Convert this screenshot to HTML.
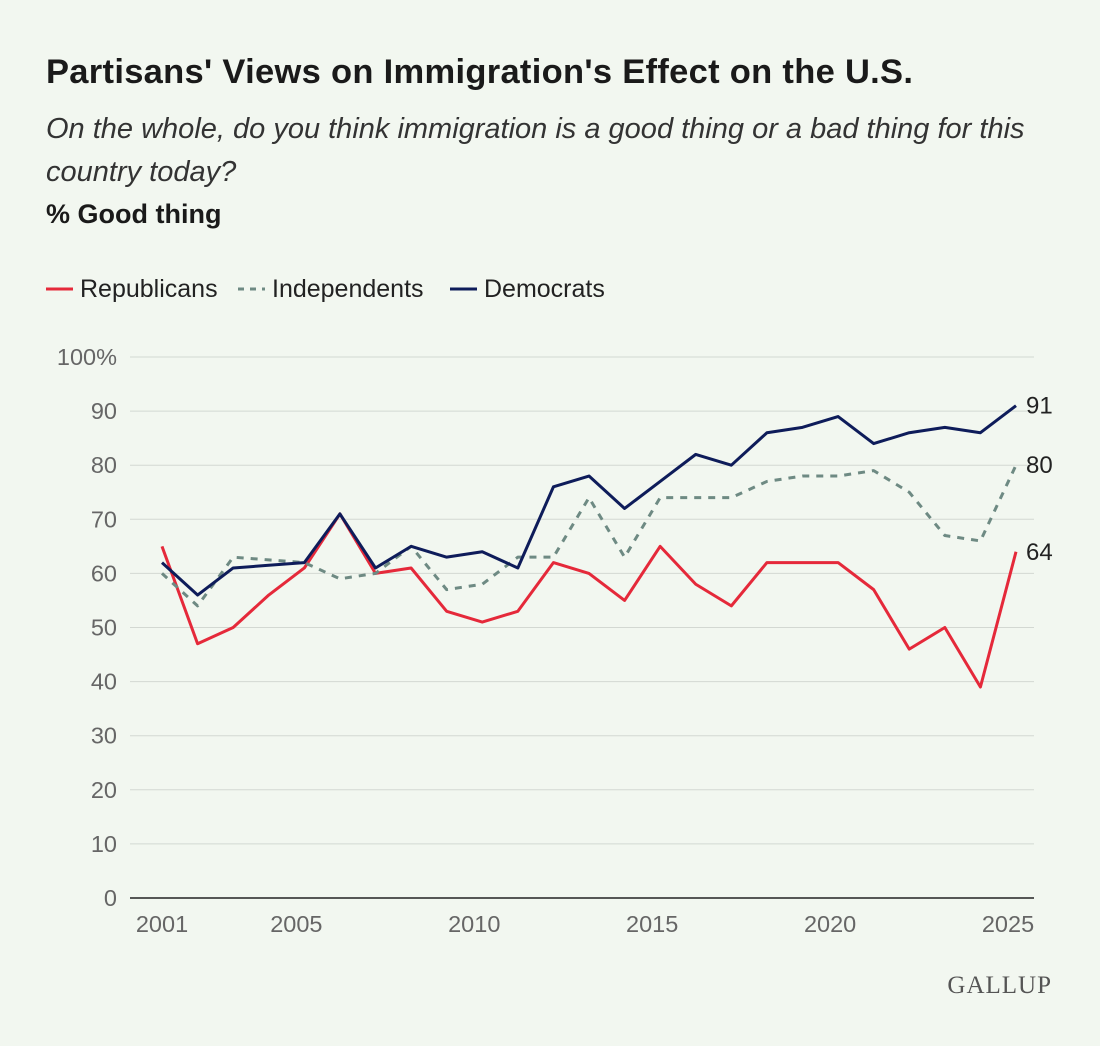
<!DOCTYPE html>
<html><head><meta charset="utf-8">
<style>
body{margin:0;background:#f2f7f0;font-family:"Liberation Sans",sans-serif;}
#wrap{position:relative;width:1100px;height:1046px;overflow:hidden;background:#f2f7f0;}
.t{position:absolute;left:46px;color:#1a1a1a;}
</style></head><body>
<div id="wrap">
<div class="t" style="top:53px;font-size:34.5px;font-weight:bold;letter-spacing:0.3px;">Partisans' Views on Immigration's Effect on the U.S.</div>
<div class="t" style="top:108px;font-size:29px;font-style:italic;line-height:43px;width:1020px;color:#333;">On the whole, do you think immigration is a good thing or a bad thing for this country today?</div>
<div class="t" style="top:199px;font-size:27px;font-weight:bold;">% Good thing</div>
<svg id="svg" width="1100" height="1046" style="position:absolute;left:0;top:0"></svg>
</div>
<script>
const years=[2001,2002,2003,2004,2005,2006,2007,2008,2009,2010,2011,2012,2013,2014,2015,2016,2017,2018,2019,2020,2021,2022,2023,2024,2025];
const republicans=[65,47,50,56,61,71,60,61,53,51,53,62,60,55,65,58,54,62,62,62,57,46,50,39,64];
const independents=[60,54,63,62.5,62,59,60,65,57,58,63,63,74,63,74,74,74,77,78,78,79,75,67,66,80];
const democrats=[62,56,61,61.5,62,71,61,65,63,64,61,76,78,72,77,82,80,86,87,89,84,86,87,86,91];
const yTicks=[0,10,20,30,40,50,60,70,80,90,100];
const xTicks=[2001,2005,2010,2015,2020,2025];
const NS="http://www.w3.org/2000/svg";
const svg=document.getElementById('svg');
const x=v=>162+(v-2001)*(1016-162)/24;
const y=v=>898-v*5.41;
function mk(t,a){const e=document.createElementNS(NS,t);for(const k in a)e.setAttribute(k,a[k]);svg.appendChild(e);return e;}
yTicks.forEach(v=>{
 const l=mk('line',{x1:130,x2:1034,y1:y(v),y2:y(v),stroke:v===0?'#222':'#d3d8d2','stroke-width':v===0?1.5:1});
 
 
 const t=mk('text',{x:117,y:y(v)+8,'text-anchor':'end','font-size':23.5,fill:'#666','font-family':'Liberation Sans'});
 t.textContent=v===100?'100%':v;
 
 
});
xTicks.forEach(v=>{
 const t=mk('text',{x:x(v)-(v===2001?0:8),y:932,'text-anchor':'middle','font-size':23.5,fill:'#666','font-family':'Liberation Sans'});
 t.textContent=v;
 
 
});
const series=[[republicans,'#e5293a','','republicans-line'],[independents,'#6e8a83','7 7','independents-line'],[democrats,'#0e1c5a','','democrats-line']];
series.forEach(s=>{
 const p=mk('polyline',{points:s[0].map((v,i)=>x(years[i])+','+y(v)).join(' '),fill:'none',stroke:s[1],'stroke-width':3,'stroke-dasharray':s[2],'stroke-linejoin':'round'});
 
 
 const last=s[0][s[0].length-1];
 const t=mk('text',{x:1026,y:y(last)+8,'font-size':24,fill:'#222','font-family':'Liberation Sans'});
 t.textContent=last;
 
 
});
const leg=[['Republicans','#e5293a','',46],['Independents','#6e8a83','6 6',238],['Democrats','#0e1c5a','',450]];
leg.forEach(l=>{
 const ln=mk('line',{x1:l[3],x2:l[3]+27,y1:289,y2:289,stroke:l[1],'stroke-width':3,'stroke-dasharray':l[2]});
 
 
 const t=mk('text',{x:l[3]+34,y:297,'font-size':25,fill:'#222','font-family':'Liberation Sans'});
 t.textContent=l[0];
 
 
});
const g=mk('text',{x:1052,y:993,'text-anchor':'end','font-size':25,fill:'#555','font-family':'Liberation Serif','letter-spacing':'1'});
g.textContent='GALLUP';


</script>
</body></html>
